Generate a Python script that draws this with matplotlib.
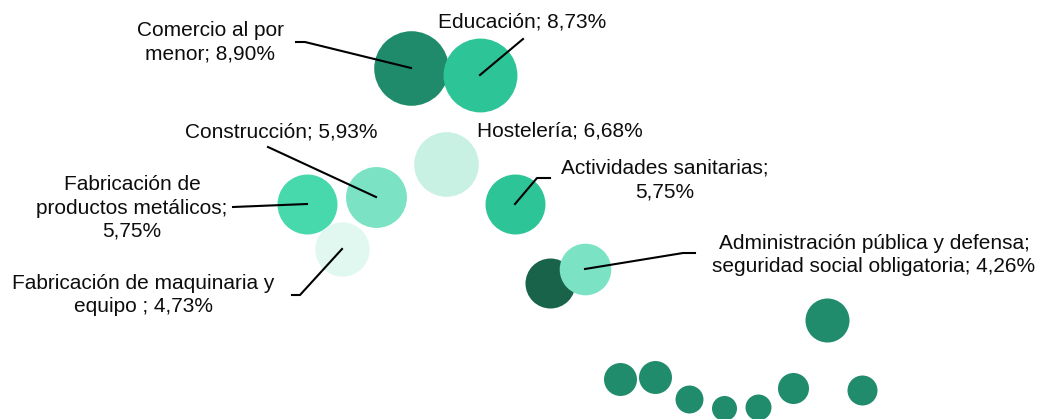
import matplotlib.pyplot as plt

plt.rcParams['font.family'] = ['Liberation Sans', 'DejaVu Sans']

# bubble data (x, y, share %)
x = [41.1, 48.0, 44.6, 37.6, 30.7, 34.2, 51.5, 55.0, 58.5,
     82.7, 62.0, 65.5, 68.9, 72.4, 75.8, 79.3, 86.2]
y = [35.1, 34.4, 25.5, 22.2, 21.5, 17.0, 21.5, 13.6, 15.0,
     9.9, 4.0, 4.2, 2.0, 1.1, 1.2, 3.1, 2.9]
share = [8.90, 8.73, 6.68, 5.93, 5.75, 4.73, 5.75, 4.00, 4.26,
         3.10, 1.74, 1.74, 1.25, 1.00, 1.08, 1.54, 1.44]
labels = ["Comercio al por\nmenor; 8,90%", "Educación; 8,73%", "Hostelería; 6,68%",
          "Construcción; 5,93%", "Fabricación de\nproductos metálicos;\n5,75%",
          "Fabricación de maquinaria y\nequipo ; 4,73%", "Actividades sanitarias;\n5,75%",
          None, "Administración pública y defensa;\nseguridad social obligatoria; 4,26%"]
colors = ["#1f8b6a", "#2dc597", "#c8f1e3", "#7be2c4", "#47d8ac", "#e1f8f0",
          "#2dc597", "#186349", "#7be2c4"] + ["#208c6b"] * 8

fig = plt.figure(figsize=(10.38, 4.19), dpi=100)
ax = fig.add_axes([0, 0, 1, 1])
ax.set_xlim(0, 103.8)
ax.set_ylim(0, 41.9)
ax.axis('off')

for i in range(len(x)):
    ax.scatter(x[i], y[i], s=324 * share[i], color=colors[i], linewidths=0, zorder=2 + i * 0.01)

def px(a, b):
    return a / 10, (419 - b) / 10

# label text positions (pixel space) and leader line points from label side
label_pos = {0: (210, 42), 1: (522, 22), 2: (560, 131), 3: (281, 132),
             4: (132, 208), 5: (143, 295), 6: (665, 180), 8: (874, 255)}
leaders = {0: [(296, 42), (305, 42)], 1: [(523, 39)], 3: [(268, 147)],
           4: [(233, 207)], 5: [(292, 295), (300, 295)],
           6: [(550, 178), (537, 178)], 8: [(695, 253), (683, 253)]}

for i, (lx, ly) in label_pos.items():
    tx, ty = px(lx, ly)
    ax.text(tx, ty, labels[i], ha='center', va='center', fontsize=15,
            linespacing=1.28, color='#0d0d0d', zorder=5)

for i, pts in leaders.items():
    xs = [px(*p)[0] for p in pts] + [x[i]]
    ys = [px(*p)[1] for p in pts] + [y[i]]
    ax.plot(xs, ys, color='black', lw=1.5, zorder=4)

fig.savefig('out.png', dpi=100)
